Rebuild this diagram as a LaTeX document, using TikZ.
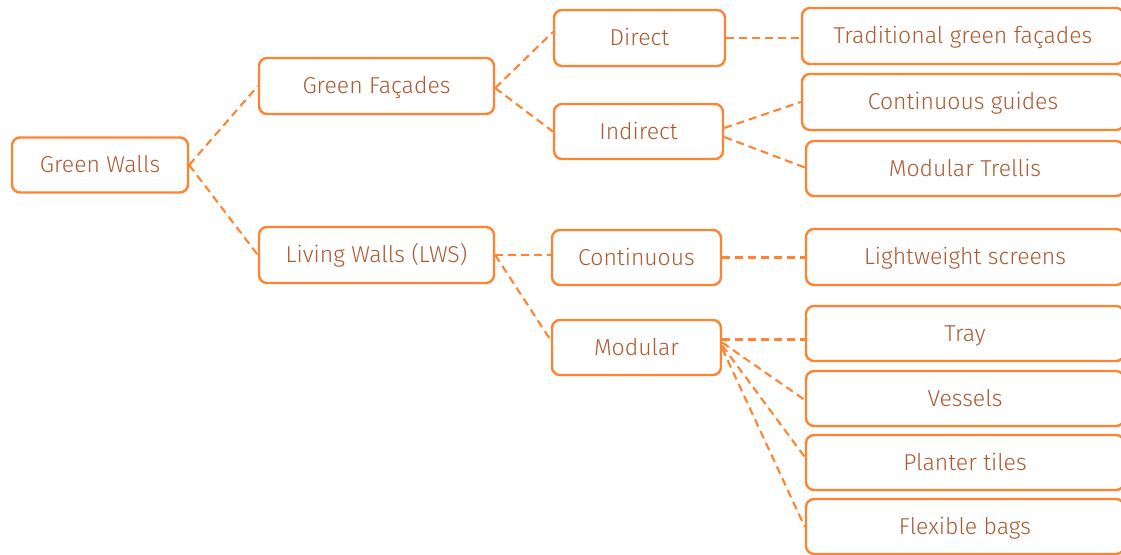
\documentclass[tikz,border=0pt]{standalone}
\usepackage{fontspec}
\setmainfont{Fira Sans Light}
\definecolor{boxline}{HTML}{FF8432}
\definecolor{boxtext}{HTML}{AD5A30}
\tikzset{
  gbox/.style={draw=boxline, line width=2.4pt, rounded corners=8pt, fill=white,
    text=boxtext, font=\fontsize{23}{27}\selectfont, inner sep=0pt,
    text height=15.8pt, text depth=0pt},
  link/.style={draw=boxline, line width=2.1pt, dash pattern=on 8pt off 5pt},
}
\begin{document}
\begin{tikzpicture}[x=1pt,y=-1pt]
\useasboundingbox (0,0) rectangle (1121,554);
\begin{scope}
\clip (0,0) rectangle (1121,554);
\node[gbox, minimum width=176pt, minimum height=55pt] (gw) at (100,165) {Green Walls};
\node[gbox, minimum width=235pt, minimum height=56pt] (gf) at (376.5,86) {Green Façades};
\node[gbox, minimum width=235pt, minimum height=56pt] (lw) at (376.5,255) {Living Walls (LWS)};
\node[gbox, minimum width=171pt, minimum height=56pt] (di) at (639.5,38) {Direct};
\node[gbox, minimum width=169pt, minimum height=55pt] (in) at (638.5,131.5) {Indirect};
\node[gbox, minimum width=169pt, minimum height=55pt] (co) at (636.5,257.5) {Continuous};
\node[gbox, minimum width=169pt, minimum height=55pt] (mo) at (636.5,347.5) {Modular};
\node[gbox, minimum width=322pt, minimum height=56pt] (tg) at (963,36) {Traditional green façades};
\node[gbox, minimum width=322pt, minimum height=56pt] (cg) at (963,102) {Continuous guides};
\node[gbox, minimum width=318pt, minimum height=55pt] (mt) at (965,168.5) {Modular Trellis};
\node[gbox, minimum width=318pt, minimum height=56pt] (ls) at (965,257) {Lightweight screens};
\node[gbox, minimum width=318pt, minimum height=55pt] (tr) at (965,333.5) {Tray};
\node[gbox, minimum width=318pt, minimum height=55pt] (ve) at (965,398.5) {Vessels};
\node[gbox, minimum width=318pt, minimum height=55pt] (pt) at (965,462.5) {Planter tiles};
\node[gbox, minimum width=318pt, minimum height=55pt] (fb) at (965,526.5) {Flexible bags};
\end{scope}
\draw[link] (gw.east) -- (gf.west);
\draw[link] (gw.east) -- (lw.west);
\draw[link] ([yshift=-2pt]gf.east) -- ([yshift=6pt]di.west);
\draw[link] ([yshift=-2pt]gf.east) -- (in.west);
\draw[link] (lw.east) -- (co.west |- lw.east);
\draw[link] (lw.east) -- ([yshift=7pt]mo.west);
\draw[link] (di.east) -- (tg.west |- di.east);
\draw[link] ([yshift=3.5pt]in.east) -- (cg.west);
\draw[link] ([yshift=-5.5pt]in.east) -- ([yshift=1pt]mt.west);
\draw[link] (co.east) -- (ls.west |- co.east);
\draw[link] ([yshift=8pt]mo.east) -- ([yshift=8pt]mo.east -| tr.west);
\draw[link] ([yshift=5pt]mo.east) -- ([yshift=-1.5pt]ve.west);
\draw[link] ([yshift=2pt]mo.east) -- ([yshift=5.5pt]pt.west);
\draw[link] ([yshift=-1pt]mo.east) -- ([yshift=-0.5pt]fb.west);
\end{tikzpicture}
\end{document}
